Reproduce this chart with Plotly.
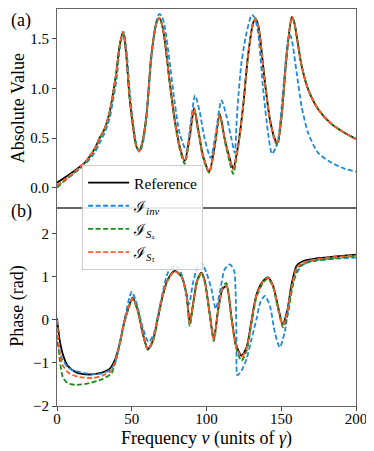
import plotly.graph_objects as go

# ---------------- data ----------------
# Panel (a): absolute value
abs_ref_x = [0, 5, 11.7, 18.4, 25.1, 28.5, 31.8, 35.2, 37.5, 39.7, 41.9, 44.2, 46.4, 48.3, 50.8, 53, 55.0, 57, 59.8,
             63.1, 66.5, 68.5, 70.3, 72, 75.4, 78.7, 82, 85.4, 88.8, 91.7, 94.4, 97.7, 101.8, 105.5, 108.9, 112.2,
             115.6, 117.8, 121.1, 124.5, 127.8, 131.2, 132.8, 134.5, 135.7, 139.1, 142.4, 145.7, 147.5, 150.2,
             153.6, 157.1, 158.8, 160.3, 163.6, 168, 174.7, 183.7, 192.6, 200]
abs_ref_y = [0.05, 0.10, 0.17, 0.25, 0.39, 0.50, 0.59, 0.76, 0.95, 1.16, 1.43, 1.57, 1.33, 0.95, 0.62, 0.42, 0.37, 0.45, 0.72,
             1.33, 1.66, 1.71, 1.64, 1.49, 1.06, 0.69, 0.42, 0.27, 0.52, 0.80, 0.59, 0.32, 0.16, 0.42, 0.74, 0.49,
             0.29, 0.19, 0.42, 0.82, 1.33, 1.66, 1.70, 1.64, 1.53, 1.06, 0.69, 0.49, 0.45, 0.72,
             1.33, 1.72, 1.66, 1.53, 1.23, 0.99, 0.79, 0.64, 0.55, 0.49]

abs_inv_x = [0, 5, 11.7, 18.4, 25.1, 28.5, 31.8, 35.2, 37.5, 39.9, 42.2, 44.6, 46.7, 48.6, 51, 53.2, 55.2, 57.2, 59.8,
             63.3, 66.5, 68.5, 70.3, 72, 75.4, 78.7, 82, 86.6, 89.4, 92.4, 95.5, 98.8, 102.8, 106.2, 110, 113.4,
             116.7, 118.9, 120.0, 120.8, 123.4, 126.8, 130.3, 132.3, 134.5, 137.9, 141.2, 143.8, 146.2, 148, 151.3,
             154.6, 155.8, 156.9, 160.3, 163.6, 168, 174.7, 183.7, 192.6, 200]
abs_inv_y = [0.02, 0.07, 0.15, 0.23, 0.35, 0.45, 0.55, 0.70, 0.88, 1.10, 1.43, 1.57, 1.35, 0.98, 0.64, 0.43, 0.36, 0.43, 0.70,
             1.33, 1.68, 1.75, 1.72, 1.63, 1.26, 0.86, 0.55, 0.37, 0.65, 0.93, 0.76, 0.49, 0.30, 0.55, 0.88, 0.72,
             0.49, 0.35, 0.62, 0.82, 1.26, 1.56, 1.74, 1.71, 1.56, 0.99, 0.55, 0.34, 0.40, 0.49, 0.99,
             1.50, 1.54, 1.50, 1.16, 0.82, 0.55, 0.35, 0.25, 0.19, 0.16]

abs_sa_x = abs_ref_x
abs_sa_y = [0.00, 0.07, 0.15, 0.24, 0.38, 0.49, 0.59, 0.76, 0.95, 1.16, 1.43, 1.57, 1.33, 0.95, 0.62, 0.42, 0.37, 0.45, 0.72,
            1.33, 1.66, 1.71, 1.64, 1.49, 1.06, 0.67, 0.39, 0.24, 0.50, 0.79, 0.57, 0.30, 0.15, 0.41, 0.73, 0.47,
            0.25, 0.14, 0.40, 0.82, 1.33, 1.66, 1.70, 1.64, 1.53, 1.06, 0.68, 0.47, 0.43, 0.71,
            1.33, 1.72, 1.66, 1.53, 1.23, 0.99, 0.79, 0.64, 0.55, 0.49]

abs_st_x = abs_ref_x
abs_st_y = [0.02, 0.08, 0.16, 0.25, 0.39, 0.50, 0.59, 0.76, 0.95, 1.16, 1.43, 1.57, 1.33, 0.95, 0.62, 0.42, 0.37, 0.45, 0.72,
            1.33, 1.66, 1.71, 1.64, 1.49, 1.06, 0.69, 0.42, 0.27, 0.52, 0.80, 0.59, 0.32, 0.16, 0.42, 0.74, 0.49,
            0.29, 0.19, 0.42, 0.82, 1.33, 1.66, 1.70, 1.64, 1.53, 1.06, 0.69, 0.49, 0.46, 0.72,
            1.33, 1.72, 1.66, 1.53, 1.23, 0.99, 0.79, 0.64, 0.55, 0.49]

# Panel (b): phase
ph_ref_x = [0, 1.7, 3.9, 7.2, 12.9, 21.8, 28.5, 35.2, 38.5, 41.9, 45.2, 48.6, 50.6, 54.1, 57.5, 60.8, 64.2, 67.5,
            70.9, 74.2, 78.7, 83.2, 86.6, 88.8, 91, 93.7, 96.6, 98.8, 102.2, 104.9, 107.7, 110.7, 113.4, 116.7,
            119.6, 123.4, 126.8, 130.1, 133.5, 137.9, 141.2, 144.6, 148, 150.9, 154, 156.9, 160.3, 164.7, 173.7,
            184.8, 200]
ph_ref_y = [0.03, -0.45, -0.80, -1.07, -1.22, -1.27, -1.24, -1.14, -0.95, -0.56, -0.02, 0.36, 0.51, 0.21, -0.33, -0.68,
            -0.48, 0.05, 0.59, 0.94, 1.13, 1.01, 0.59, -0.06, 0.36, 0.90, 1.09, 0.90, 0.13, -0.45, 0.21, 0.71, 0.78,
            0.05, -0.56, -0.83, -0.64, -0.02, 0.59, 0.90, 0.98, 0.78, 0.28, -0.10, 0.21, 0.82, 1.25, 1.36, 1.42,
            1.46, 1.51]

ph_inv_x = [0, 1.7, 3.9, 7.2, 11.7, 20.6, 29.6, 36.3, 39.7, 42.2, 45.5, 48.3, 50.1, 53.5, 57.5, 61.3, 64.5, 67.8,
            71, 74.2, 78.7, 82, 85.4, 88.3, 91, 94.4, 96.6, 99.9, 103.3, 106.2, 108.9, 112.2, 115.6, 118.5, 119.4,
            120.1, 120.7, 123.4, 126.8, 130.1, 133.5, 136, 139.1, 142.4, 145.7, 149, 152.3, 155.7, 159.1, 163.6,
            170.3, 181.4, 200]
ph_inv_y = [-0.50, -0.75, -0.93, -1.10, -1.18, -1.25, -1.25, -1.14, -0.91, -0.50, 0.05, 0.50, 0.65, 0.35, -0.20,
            -0.52, -0.35, 0.15, 0.68, 1.09, 1.25, 1.17, 0.78, 0.36, 0.86, 1.25, 1.32, 1.09, 0.71, 0.25, 0.63, 1.17,
            1.28, 1.13, 0.71, -0.45, -1.29, -1.18, -0.91, -0.45, 0.02, 0.40, 0.55, 0.32, -0.29, -0.64, -0.29, 0.48,
            0.98, 1.25, 1.36, 1.40, 1.44]

ph_sa_x = [0, 1.7, 3.9, 7.2, 12.9, 21.8, 30.7, 36.3, 38.5, 41.9, 45.2, 48.6, 50.6, 54.1, 57.5, 60.8, 64.2, 67.5,
           70.9, 74.2, 78.7, 83.2, 86.6, 88.8, 91, 93.7, 96.6, 98.8, 102.2, 104.9, 107.7, 110.7, 113.2, 116.7,
           119.6, 123.4, 126.8, 130.1, 133.5, 137.9, 141.2, 144.6, 148, 151.3, 154.3, 157.3, 160.6, 165, 173.7,
           184.8, 200]
ph_sa_y = [0.0, -0.87, -1.33, -1.47, -1.51, -1.47, -1.37, -1.25, -1.05, -0.58, -0.05, 0.33, 0.49, 0.19, -0.35, -0.70,
           -0.50, 0.03, 0.57, 0.92, 1.12, 1.00, 0.55, -0.15, 0.32, 0.88, 1.08, 0.88, 0.10, -0.50, 0.20, 0.75, 0.85,
           0.05, -0.62, -0.95, -0.72, -0.08, 0.53, 0.86, 0.95, 0.74, 0.22, -0.18, 0.12, 0.72, 1.17, 1.30, 1.37,
           1.42, 1.47]

ph_st_x = [0, 1.7, 3.9, 8.4, 15.1, 24, 30.7, 36.3, 38.8, 41.9, 45.2, 48.6, 50.6, 54.1, 57.5, 60.8, 64.2, 67.5,
           70.9, 74.2, 78.7, 83.2, 86.6, 88.8, 91, 93.7, 96.6, 98.8, 102.2, 104.9, 107.7, 110.7, 113.4, 116.7,
           119.6, 123.4, 126.8, 130.1, 133.5, 137.9, 141.2, 144.6, 148, 151, 154, 157, 160.4, 164.8, 173.7,
           184.8, 200]
ph_st_y = [0.0, -0.70, -1.06, -1.25, -1.33, -1.35, -1.29, -1.18, -0.97, -0.57, -0.03, 0.35, 0.50, 0.20, -0.34, -0.69,
           -0.49, 0.04, 0.58, 0.93, 1.12, 1.00, 0.57, -0.09, 0.34, 0.89, 1.08, 0.89, 0.12, -0.47, 0.20, 0.72, 0.78,
           0.04, -0.58, -0.86, -0.67, -0.04, 0.57, 0.89, 0.97, 0.77, 0.26, -0.12, 0.18, 0.78, 1.21, 1.33, 1.40,
           1.45, 1.49]

names = ["Reference", "ℐ<sub><i>inv</i></sub>", "ℐ<sub><i>S</i>ₐ</sub>", "ℐ<sub><i>S</i>ₜ</sub>"]
colors = ["black", "#1f8ad8", "#1a8a1a", "#ff5a2a"]

abs_tick_vals = [0, 0.5, 1.0, 1.5]
abs_tick_text = ["0.0", "0.5", "1.0", "1.5"]
ph_tick_vals = [-2, -1, 0, 1, 2]
ph_tick_text = ["−2", "−1", "0", "1", "2"]
x_tick_vals = [0, 50, 100, 150, 200]

# ---------------- figure ----------------
FONT = "Liberation Serif"
fig = go.Figure()

series = [
    (abs_ref_x, abs_ref_y, ph_ref_x, ph_ref_y),
    (abs_inv_x, abs_inv_y, ph_inv_x, ph_inv_y),
    (abs_sa_x, abs_sa_y, ph_sa_x, ph_sa_y),
    (abs_st_x, abs_st_y, ph_st_x, ph_st_y),
]
for i, (ax, ay, px, py) in enumerate(series):
    dash = "solid" if i == 0 else "5px,2.5px"
    line = dict(color=colors[i], width=1.8, dash=dash, shape="spline", smoothing=0.7)
    fig.add_trace(go.Scatter(x=ax, y=ay, mode="lines", line=line, name=names[i],
                             legendgroup=f"g{i}", xaxis="x", yaxis="y"))
    fig.add_trace(go.Scatter(x=px, y=py, mode="lines", line=line, name=names[i],
                             legendgroup=f"g{i}", showlegend=False, xaxis="x2", yaxis="y2"))

axis_common = dict(showgrid=False, zeroline=False, showline=True, mirror=True, automargin=False,
                   linecolor="#666", linewidth=1, tickcolor="#444", ticklen=4,
                   tickfont=dict(family=FONT, size=15, color="black"))

# the page body adds an 8px offset, so the figure is 8px smaller and margins are shifted
PW = 366 - 49 - 18
PH = 443 - 1 - 45
fig.update_layout(
    template="none",
    width=366, height=443,
    margin=dict(l=49, r=18, t=1, b=45, autoexpand=False),
    paper_bgcolor="white", plot_bgcolor="white",
    font=dict(family=FONT, size=16, color="black"),
    xaxis=dict(domain=[0, 1], anchor="y", range=[0, 200], matches="x2",
               showticklabels=False, ticks="", **axis_common),
    xaxis2=dict(domain=[0, 1], anchor="y2", range=[0, 200], tickvals=x_tick_vals, ticks="outside",
                ticklabelstandoff=-5, **axis_common),
    yaxis=dict(domain=[0.5, 1], anchor="x", range=[-0.2, 1.8], tickvals=abs_tick_vals,
               ticktext=abs_tick_text, ticks="outside", **axis_common),
    yaxis2=dict(domain=[0, 0.5], anchor="x2", range=[-2, 2.6], tickvals=ph_tick_vals,
                ticktext=ph_tick_text, ticks="outside", **axis_common),
    legend=dict(x=0.084, y=0.607, xanchor="left", yanchor="top",
                bgcolor="rgba(255,255,255,0.85)", bordercolor="#cccccc", borderwidth=1,
                font=dict(family=FONT, size=15.5), tracegroupgap=0, itemwidth=41),
    showlegend=True,
    annotations=[
        dict(text="(a)", xref="paper", yref="paper", x=-48 / PW, y=1 + 1 / PH, showarrow=False,
             font=dict(family=FONT, size=18), xanchor="left", yanchor="top"),
        dict(text="(b)", xref="paper", yref="paper", x=-48 / PW, y=0.49, showarrow=False,
             font=dict(family=FONT, size=18), xanchor="left", yanchor="middle"),
        dict(text="Frequency <i>ν</i> (units of <i>γ</i>)", xref="paper", yref="paper",
             x=0.5, y=-0.083, showarrow=False, font=dict(family=FONT, size=18),
             xanchor="center", yanchor="middle"),
        dict(text="Absolute Value", xref="paper", yref="paper", x=-39 / PW, y=0.75, showarrow=False,
             textangle=-90, font=dict(family=FONT, size=18), xanchor="center", yanchor="middle"),
        dict(text="Phase (rad)", xref="paper", yref="paper", x=-39 / PW, y=0.25, showarrow=False,
             textangle=-90, font=dict(family=FONT, size=18), xanchor="center", yanchor="middle"),
    ],
)

fig.write_html("out.html")
